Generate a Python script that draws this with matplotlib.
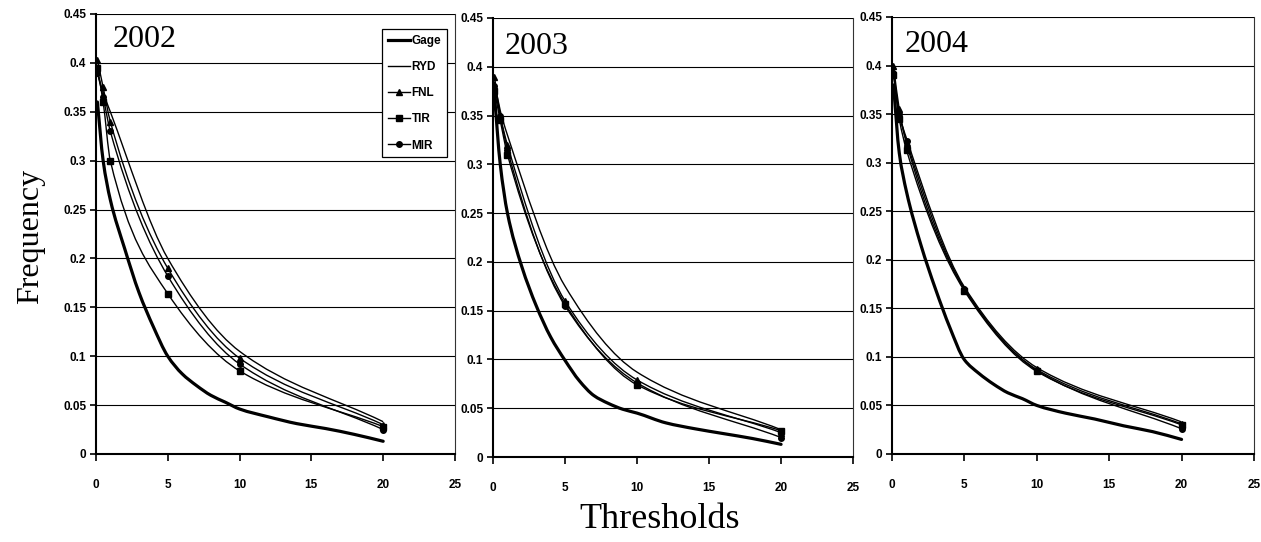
import numpy as np
import matplotlib
matplotlib.use("Agg")
import matplotlib.pyplot as plt
from matplotlib.path import Path
from matplotlib.patches import PathPatch
from matplotlib.lines import Line2D

# thresholds of the satellite products and of the gage curve
thr = [0.1, 0.5, 1, 5, 10, 20]
gage_thr = [0.1, 0.5, 1, 2, 3, 4, 5, 6, 7, 8, 9, 10, 12, 14, 16, 18, 20]

years = ["2002", "2003", "2004"]

gage = {
    "2002": [0.36, 0.30, 0.26, 0.21, 0.165, 0.13, 0.10, 0.082, 0.07, 0.06, 0.053, 0.046, 0.038, 0.031, 0.026, 0.02, 0.013],
    "2003": [0.37, 0.30, 0.25, 0.195, 0.155, 0.123, 0.099, 0.078, 0.063, 0.055, 0.049, 0.045, 0.035, 0.029, 0.024, 0.019, 0.013],
    "2004": [0.38, 0.31, 0.27, 0.215, 0.17, 0.13, 0.097, 0.083, 0.072, 0.063, 0.057, 0.05, 0.042, 0.036, 0.029, 0.023, 0.015],
}
ryd = {
    "2002": [0.39, 0.37, 0.35, 0.20, 0.105, 0.033],
    "2003": [0.385, 0.355, 0.33, 0.175, 0.087, 0.028],
    "2004": [0.395, 0.35, 0.325, 0.172, 0.089, 0.033],
}
fnl = {
    "2002": [0.403, 0.375, 0.34, 0.19, 0.098, 0.030],
    "2003": [0.39, 0.35, 0.32, 0.16, 0.079, 0.025],
    "2004": [0.40, 0.355, 0.32, 0.170, 0.087, 0.031],
}
tir = {
    "2002": [0.395, 0.36, 0.30, 0.164, 0.085, 0.028],
    "2003": [0.375, 0.345, 0.31, 0.157, 0.074, 0.027],
    "2004": [0.39, 0.345, 0.313, 0.168, 0.085, 0.030],
}
mir = {
    "2002": [0.39, 0.365, 0.33, 0.182, 0.092, 0.025],
    "2003": [0.38, 0.35, 0.315, 0.155, 0.076, 0.020],
    "2004": [0.392, 0.35, 0.322, 0.170, 0.086, 0.026],
}

narrow = ["Liberation Sans Narrow", "Liberation Sans", "DejaVu Sans"]
serif = ["Liberation Serif", "DejaVu Serif"]


def smooth_path(x, y):
    # monotone cubic (pchip slopes) drawn as bezier segments
    x = np.asarray(x, float)
    y = np.asarray(y, float)
    h = np.diff(x)
    d = np.diff(y) / h
    m = np.zeros_like(y)
    m[0], m[-1] = d[0], d[-1]
    for k in range(1, len(x) - 1):
        if d[k - 1] * d[k] <= 0:
            m[k] = 0
        else:
            w1 = 2 * h[k] + h[k - 1]
            w2 = h[k] + 2 * h[k - 1]
            m[k] = (w1 + w2) / (w1 / d[k - 1] + w2 / d[k])
    verts = [(x[0], y[0])]
    codes = [Path.MOVETO]
    for k in range(len(x) - 1):
        verts += [(x[k] + h[k] / 3, y[k] + m[k] * h[k] / 3),
                  (x[k + 1] - h[k] / 3, y[k + 1] - m[k + 1] * h[k] / 3),
                  (x[k + 1], y[k + 1])]
        codes += [Path.CURVE4] * 3
    return Path(verts, codes)


fig = plt.figure(figsize=(12.61, 5.42), dpi=100)
boxes = [
    [0.0761, 0.1624, 0.2847, 0.8118],
    [0.3910, 0.1568, 0.2855, 0.8100],
    [0.7074, 0.1624, 0.2870, 0.8063],
]
year_pos = [(0.047, 0.943), (0.033, 0.934), (0.036, 0.936)]

series = [
    ("RYD", ryd, None),
    ("FNL", fnl, "^"),
    ("TIR", tir, "s"),
    ("MIR", mir, "o"),
]

for i, yr in enumerate(years):
    ax = fig.add_axes(boxes[i])
    ax.add_patch(PathPatch(smooth_path(gage_thr, gage[yr]), fill=False,
                           edgecolor="black", lw=2.3, capstyle="round", zorder=3))
    for name, data, mk in series:
        ax.add_patch(PathPatch(smooth_path(thr, data[yr]), fill=False,
                               edgecolor="black", lw=1.0, zorder=3))
        if mk:
            ax.plot(thr, data[yr], ls="none", marker=mk, ms=4, color="black", zorder=4)

    ax.set_xlim(0, 25)
    ax.set_ylim(0, 0.45)
    ax.set_xticks(range(0, 26, 5))
    ax.set_yticks(np.arange(0, 0.451, 0.05))
    ax.set_yticklabels(["0", "0.05", "0.1", "0.15", "0.2", "0.25", "0.3", "0.35", "0.4", "0.45"])
    ax.yaxis.grid(True, color="black", lw=0.8)
    ax.set_axisbelow(True)
    for s in ax.spines.values():
        s.set_linewidth(0.8)
        s.set_color("#333333")
    ax.spines["left"].set_linewidth(1.5)
    ax.spines["left"].set_color("black")
    ax.spines["bottom"].set_linewidth(1.5)
    ax.spines["bottom"].set_color("black")
    ax.spines["top"].set_visible(False)
    ax.tick_params(axis="x", direction="out", length=5, width=1.2, pad=13)
    ax.tick_params(axis="y", direction="out", length=4, width=1.2, pad=3)
    for lab in ax.get_xticklabels() + ax.get_yticklabels():
        lab.set_family(narrow)
        lab.set_fontweight("bold")
        lab.set_fontsize(8.5)
    ax.text(year_pos[i][0], year_pos[i][1], yr, transform=ax.transAxes,
            ha="left", va="center", family=serif, fontsize=23)

    if i == 0:
        handles = [
            Line2D([], [], color="black", lw=2.3, label="Gage"),
            Line2D([], [], color="black", lw=1.0, label="RYD"),
            Line2D([], [], color="black", lw=1.0, marker="^", ms=4, label="FNL"),
            Line2D([], [], color="black", lw=1.0, marker="s", ms=4, label="TIR"),
            Line2D([], [], color="black", lw=1.0, marker="o", ms=4, label="MIR"),
        ]
        leg = ax.legend(handles=handles, loc="upper right", bbox_to_anchor=(0.978, 0.966),
                        borderaxespad=0, fancybox=False, framealpha=1, edgecolor="black",
                        handlelength=1.9, handletextpad=0.1, labelspacing=1.2,
                        borderpad=0.5, prop={"family": narrow, "weight": "bold", "size": 8.5})
        leg.get_frame().set_linewidth(0.9)

fig.text(0.024, 0.563, "Frequency", rotation=90, ha="center", va="center",
         family=serif, fontsize=23)
fig.text(0.523, 0.041, "Thresholds", ha="center", va="center",
         family=serif, fontsize=26)

fig.savefig("out.png", dpi=100)
